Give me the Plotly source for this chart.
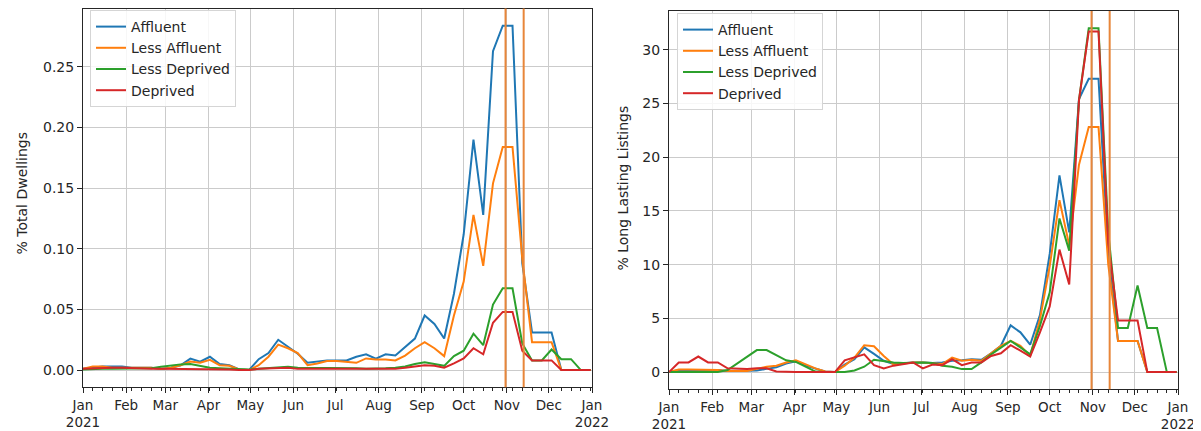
import pandas as pd
import plotly.graph_objects as go

# ---------------- data ----------------
weeks = pd.date_range("2021-01-01", periods=53, freq="7D")
series_names = ["Affluent", "Less Affluent", "Less Deprived", "Deprived"]
series_colors = ["#1f77b4", "#ff7f0e", "#2ca02c", "#d62728"]

# % Total Dwellings (left panel)
dw_affluent = [0.001, 0.002, 0.003, 0.003, 0.003, 0.002, 0.002, 0.002, 0.001, 0.002,
               0.004, 0.0095, 0.007, 0.011, 0.005, 0.004, 0.0005, 0.0, 0.009, 0.014,
               0.025, 0.019, 0.0135, 0.006, 0.007, 0.008, 0.008, 0.008, 0.011, 0.013,
               0.0095, 0.013, 0.012, 0.019, 0.026, 0.045, 0.038, 0.026, 0.063, 0.112,
               0.190, 0.128, 0.263, 0.284, 0.284, 0.088, 0.031, 0.031, 0.031, 0.0,
               0.0, 0.0, 0.0]
dw_less_affluent = [0.001, 0.003, 0.003, 0.002, 0.002, 0.002, 0.002, 0.002, 0.001, 0.002,
                    0.004, 0.007, 0.006, 0.0085, 0.004, 0.0035, 0.0005, 0.0, 0.004, 0.011,
                    0.021, 0.018, 0.014, 0.004, 0.0055, 0.0075, 0.0075, 0.0068, 0.006, 0.0096,
                    0.0087, 0.0087, 0.008, 0.012, 0.018, 0.023, 0.018, 0.0115, 0.045, 0.073,
                    0.128, 0.086, 0.154, 0.184, 0.184, 0.092, 0.023, 0.023, 0.023, 0.0,
                    0.0, 0.0, 0.0]
dw_less_deprived = [0.0005, 0.001, 0.001, 0.001, 0.001, 0.001, 0.001, 0.0015, 0.0027, 0.004,
                    0.0047, 0.005, 0.0035, 0.002, 0.0015, 0.001, 0.0005, 0.0005, 0.001, 0.0015,
                    0.002, 0.0027, 0.002, 0.002, 0.002, 0.0015, 0.0015, 0.0015, 0.0015, 0.001,
                    0.001, 0.0015, 0.002, 0.003, 0.005, 0.0065, 0.005, 0.0035, 0.0115, 0.016,
                    0.030, 0.0205, 0.054, 0.0675, 0.0675, 0.022, 0.008, 0.008, 0.017, 0.009,
                    0.009, 0.0, 0.0]
dw_deprived = [0.001, 0.0015, 0.002, 0.002, 0.002, 0.0015, 0.0015, 0.001, 0.001, 0.001,
               0.001, 0.001, 0.0005, 0.0005, 0.0005, 0.0005, 0.0, 0.0, 0.001, 0.0015,
               0.002, 0.002, 0.001, 0.001, 0.001, 0.001, 0.001, 0.0005, 0.0005, 0.001,
               0.0005, 0.001, 0.001, 0.002, 0.003, 0.004, 0.0035, 0.002, 0.0055, 0.0096,
               0.018, 0.013, 0.039, 0.048, 0.048, 0.016, 0.008, 0.008, 0.008, 0.0,
               0.0, 0.0, 0.0]

# % Long Lasting Listings (right panel)
ll_affluent = [0.0, 0.2, 0.2, 0.2, 0.2, 0.2, 0.1, 0.1, 0.1, 0.15,
               0.3, 0.45, 0.8, 1.0, 0.6, 0.3, 0.05, 0.0, 0.7, 1.2,
               2.3, 1.7, 1.05, 0.75, 0.85, 0.9, 0.9, 0.85, 0.9, 1.05,
               1.1, 1.2, 1.15, 1.75, 2.45, 4.35, 3.7, 2.55, 5.3, 11.0,
               18.3, 13.0, 25.4, 27.3, 27.3, 11.0, 2.9, 2.9, 2.9, 0.0,
               0.0, 0.0, 0.0]
ll_less_affluent = [0.0, 0.25, 0.25, 0.25, 0.2, 0.2, 0.1, 0.1, 0.1, 0.3,
                    0.5, 0.6, 0.9, 1.1, 0.7, 0.35, 0.05, 0.0, 0.6, 1.35,
                    2.5, 2.4, 1.5, 0.7, 0.8, 0.9, 0.9, 0.85, 0.75, 1.35,
                    1.05, 1.15, 1.05, 1.75, 2.45, 2.9, 2.45, 1.5, 4.9, 9.85,
                    16.0, 11.8, 19.3, 22.8, 22.8, 10.0, 2.9, 2.9, 2.9, 0.0,
                    0.0, 0.0, 0.0]
ll_less_deprived = [0.0, 0.0, 0.0, 0.0, 0.0, 0.0, 0.2, 0.8, 1.4, 2.05,
                    2.05, 1.6, 1.1, 0.95, 0.5, 0.05, 0.0, 0.0, 0.0, 0.15,
                    0.5, 1.15, 1.0, 0.9, 0.85, 0.9, 0.9, 0.85, 0.6, 0.5,
                    0.28, 0.28, 0.9, 1.65, 2.3, 2.9, 2.3, 1.65, 4.3, 7.4,
                    14.3, 11.3, 25.3, 32.0, 32.0, 13.0, 4.1, 4.1, 8.05, 4.1,
                    4.1, 0.0, 0.0]
ll_deprived = [0.0, 0.9, 0.9, 1.45, 0.9, 0.9, 0.35, 0.3, 0.3, 0.35,
               0.35, 0.05, 0.0, 0.0, 0.0, 0.0, 0.0, 0.0, 1.1, 1.35,
               1.65, 0.65, 0.35, 0.6, 0.75, 0.9, 0.35, 0.7, 0.65, 1.2,
               0.65, 0.9, 0.9, 1.5, 1.75, 2.5, 2.0, 1.45, 3.7, 6.1,
               11.4, 8.15, 25.3, 31.7, 31.7, 12.0, 4.8, 4.8, 4.8, 0.0,
               0.0, 0.0, 0.0]

event_dates = ["2021-10-31", "2021-11-13"]
month_ticks = pd.date_range("2021-01-01", "2022-01-01", freq="MS")
month_labels = ["Jan<br>2021", "Feb", "Mar", "Apr", "May", "Jun", "Jul",
                "Aug", "Sep", "Oct", "Nov", "Dec", "Jan<br>2022"]
y_titles = ["% Total Dwellings", "% Long Lasting Listings"]

left_series = [dw_affluent, dw_less_affluent, dw_less_deprived, dw_deprived]
right_series = [ll_affluent, ll_less_affluent, ll_less_deprived, ll_deprived]

# ---------------- figure ----------------
# the page body has an 8px margin, so the figure is drawn 8px in from the window edge
OFF = 8
W, H = 1201 - OFF, 431 - OFF
TXT = "#262626"
GRID = "#cbcbcb"
FONT = "DejaVu Sans"
FS = 14


def px_x(xp):
    return (xp - OFF) / W


def px_y(yp):
    return 1 - (yp - OFF) / H


fig = go.Figure()

for vals, name, col in zip(left_series, series_names, series_colors):
    fig.add_trace(go.Scatter(x=weeks, y=vals, mode="lines", name=name,
                             line=dict(color=col, width=2),
                             xaxis="x", yaxis="y", legend="legend",
                             legendgroup="L" + name))
for vals, name, col in zip(right_series, series_names, series_colors):
    fig.add_trace(go.Scatter(x=weeks, y=vals, mode="lines", name=name,
                             line=dict(color=col, width=2),
                             xaxis="x2", yaxis="y2", legend="legend2",
                             legendgroup="R" + name))


def auto_range(series):
    lo = min(min(s) for s in series)
    hi = max(max(s) for s in series)
    pad = 0.05 * (hi - lo)
    return [lo - pad, hi + pad]


def xaxis_cfg(domain, anchor):
    return dict(domain=domain, anchor=anchor, type="date", automargin=False,
                range=["2021-01-01", "2022-01-01"],
                tickmode="array", tickvals=month_ticks, ticktext=month_labels,
                ticks="outside", ticklen=5, tickwidth=1, tickcolor=TXT,
                showgrid=True, gridcolor=GRID, gridwidth=1,
                showline=True, mirror=True, linecolor=TXT, linewidth=1,
                zeroline=False, tickfont=dict(size=13.5, color=TXT, family=FONT),
                minor=dict(ticks="outside", ticklen=3, tickwidth=1, tickcolor=TXT,
                           tick0="2021-01-01", dtick=7 * 86400000, showgrid=False))


def yaxis_cfg(domain, anchor, rng, dtick, fmt):
    return dict(domain=domain, anchor=anchor, range=rng, dtick=dtick, tick0=0,
                automargin=False,
                tickformat=fmt, ticks="outside", ticklen=5, tickwidth=1, tickcolor=TXT,
                showgrid=True, gridcolor=GRID, gridwidth=1,
                showline=True, mirror=True, linecolor=TXT, linewidth=1,
                zeroline=False, tickfont=dict(size=FS, color=TXT, family=FONT))


fig.update_layout(
    width=W, height=H,
    margin=dict(l=0, r=0, t=0, b=0),
    paper_bgcolor="white", plot_bgcolor="white",
    font=dict(family=FONT, size=FS, color=TXT),
    xaxis=xaxis_cfg([px_x(83), px_x(592)], "y"),
    yaxis=yaxis_cfg([px_y(387.3), px_y(8.5)], "x",
                    auto_range(left_series), 0.05, ".2f"),
    xaxis2=xaxis_cfg([px_x(669), px_x(1178)], "y2"),
    yaxis2=yaxis_cfg([px_y(389.3), px_y(11)], "x2",
                     auto_range(right_series), 5, "d"),
    legend=dict(x=px_x(90), y=px_y(10), xanchor="left", yanchor="top",
                bgcolor="rgba(255,255,255,0.85)", bordercolor="#d5d5d5", borderwidth=1,
                font=dict(size=FS, color=TXT, family=FONT), tracegroupgap=0),
    legend2=dict(x=px_x(677), y=px_y(13), xanchor="left", yanchor="top",
                 bgcolor="rgba(255,255,255,0.85)", bordercolor="#d5d5d5", borderwidth=1,
                 font=dict(size=FS, color=TXT, family=FONT), tracegroupgap=0),
    showlegend=True,
)

# y-axis titles
for title, (xp, yp) in zip(y_titles, [(21, 193.5), (622, 188.5)]):
    fig.add_annotation(text=title, xref="paper", yref="paper", x=px_x(xp), y=px_y(yp),
                       xanchor="center", yanchor="middle", textangle=-90,
                       showarrow=False, font=dict(size=FS, color=TXT, family=FONT))

for xr, yr in (("x", "y domain"), ("x2", "y2 domain")):
    for d in event_dates:
        fig.add_shape(type="line", xref=xr, yref=yr, x0=d, x1=d, y0=0, y1=1,
                      line=dict(color="#e8863a", width=2), layer="above")

fig.write_html("out.html")
